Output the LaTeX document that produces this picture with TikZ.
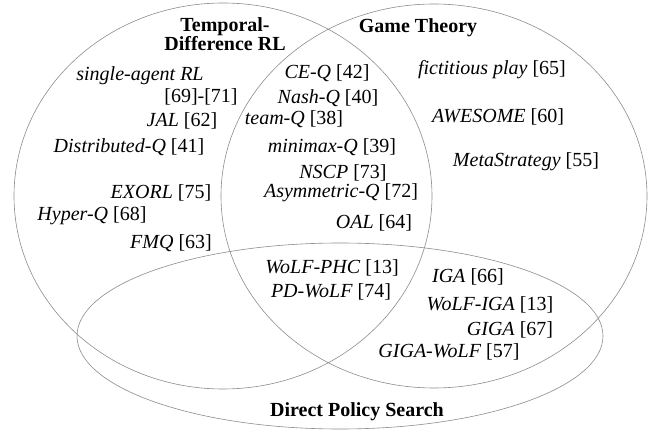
\documentclass[tikz,border=0pt]{standalone}
\usepackage{fontspec}
\setmainfont{Liberation Serif}
\begin{document}
\begin{tikzpicture}[x=1pt,y=-1pt,
  setline/.style={draw=black!45, line width=0.6pt},
  item/.style={inner sep=0pt, font=\fontsize{20}{22}\selectfont},
  head/.style={inner sep=0pt, align=center, font=\fontsize{20}{19}\selectfont\bfseries}]
\useasboundingbox (0,0) rectangle (654,430);
% sets
\draw[setline] (223,196) ellipse [x radius=209pt, y radius=193pt];
\draw[setline] (434,196) ellipse [x radius=213pt, y radius=192pt];
\draw[setline] (340,336) ellipse [x radius=263pt, y radius=93pt];
% headings
\node[head] (tdrl) at (225,34) {Temporal-\\Difference RL};
\node[head] (gt) at (418,28) {Game Theory};
\node[head] (dps) at (357,412) {Direct Policy Search};
% temporal-difference only
\node[item] (sarl) at (140,76) {\textit{single-agent RL}};
\node[item] (sarlref) at (201,97) {[69]-[71]};
\node[item] (jal) at (182,121) {\textit{JAL} [62]};
\node[item] (distq) at (129,147) {\textit{Distributed-Q} [41]};
\node[item] (exorl) at (161,193) {\textit{EXORL} [75]};
\node[item] (hyperq) at (92,216) {\textit{Hyper-Q} [68]};
\node[item] (fmq) at (171,243) {\textit{FMQ} [63]};
% intersection TD and GT
\node[item] (ceq) at (327,73) {\textit{CE-Q} [42]};
\node[item] (nashq) at (328,98) {\textit{Nash-Q} [40]};
\node[item] (teamq) at (294,119) {\textit{team-Q} [38]};
\node[item] (minimaxq) at (332,147) {\textit{minimax-Q} [39]};
\node[item] (nscp) at (343,173) {\textit{NSCP} [73]};
\node[item] (asymq) at (341,193) {\textit{Asymmetric-Q} [72]};
\node[item] (oal) at (374,223) {\textit{OAL} [64]};
% game theory only
\node[item] (fict) at (492,70) {\textit{fictitious play} [65]};
\node[item] (awesome) at (498,117) {\textit{AWESOME} [60]};
\node[item] (meta) at (526,162) {\textit{MetaStrategy} [55]};
% all three
\node[item] (wolfphc) at (332,268) {\textit{WoLF-PHC} [13]};
\node[item] (pdwolf) at (331,292) {\textit{PD-WoLF} [74]};
% GT and DPS
\node[item] (iga) at (468,277) {\textit{IGA} [66]};
\node[item] (wolfiga) at (490,305) {\textit{WoLF-IGA} [13]};
\node[item] (giga) at (510,330) {\textit{GIGA} [67]};
\node[item] (gigawolf) at (449,352) {\textit{GIGA-WoLF} [57]};
\end{tikzpicture}
\end{document}
